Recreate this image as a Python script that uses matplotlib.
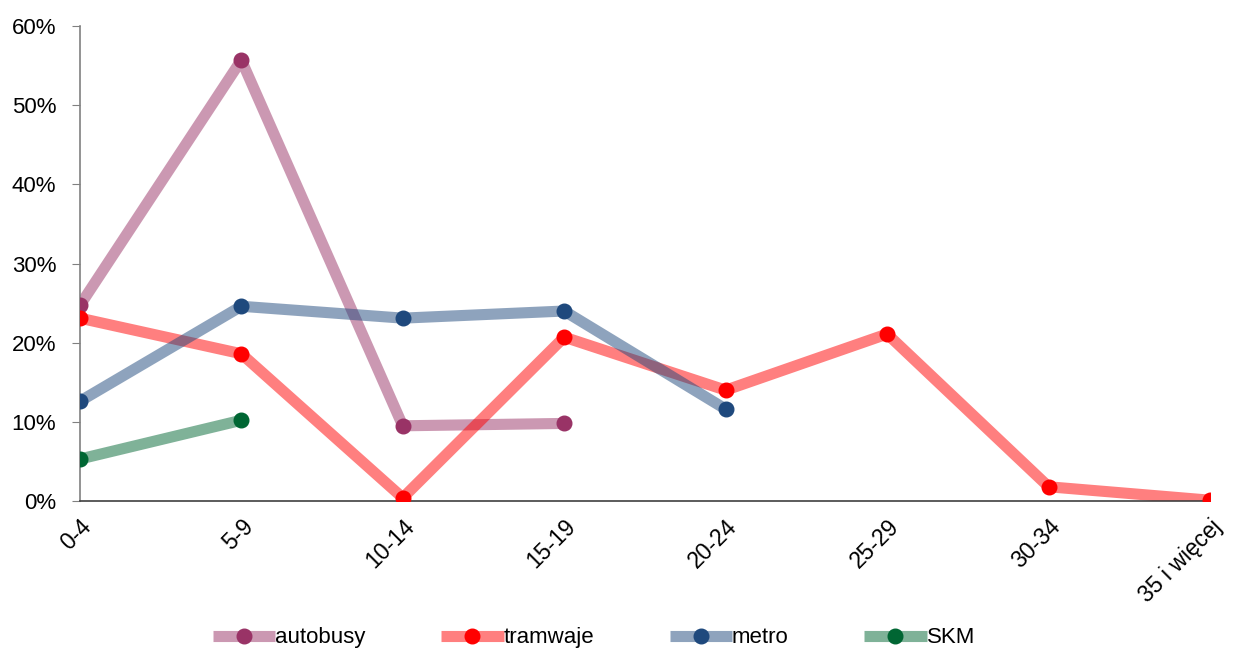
import numpy as np
import matplotlib.pyplot as plt
import matplotlib.transforms as mtransforms
from matplotlib.ticker import PercentFormatter

plt.rcParams["font.family"] = ["Liberation Sans", "DejaVu Sans"]

categories = ["0-4", "5-9", "10-14", "15-19", "20-24", "25-29", "30-34", "35 i więcej"]

autobusy = [24.7, 55.7, 9.5, 9.8]
tramwaje = [23.1, 18.6, 0.4, 20.7, 14.0, 21.1, 1.8, 0.1]
metro = [12.6, 24.6, 23.1, 24.0, 11.6]
skm = [5.3, 10.2]

series = [
    ("autobusy", autobusy, "#993366"),
    ("tramwaje", tramwaje, "#FF0000"),
    ("metro", metro, "#1F497D"),
    ("SKM", skm, "#006633"),
]

fig = plt.figure(figsize=(12.48, 6.51), dpi=100)
ax = fig.add_axes([0.064, 0.2304, 0.9056, 0.7296])

handles = []
for name, vals, c in series:
    x = np.arange(len(vals))
    ln, = ax.plot(x, vals, color=c, alpha=0.5, lw=8, solid_capstyle="butt",
                  solid_joinstyle="round", zorder=2)
    mk, = ax.plot(x, vals, ls="none", marker="o", markersize=10.5,
                  markerfacecolor=c, markeredgecolor=c, zorder=4)
    handles.append(((ln, mk), name))

ax.set_xlim(0, len(categories) - 1)
ax.set_ylim(0, 60)
ax.set_yticks(np.arange(0, 61, 10))
ax.yaxis.set_major_formatter(PercentFormatter(decimals=0))
ax.set_xticks(np.arange(len(categories)))
ax.set_xticklabels(categories, rotation=45, ha="right", rotation_mode="anchor")

# nudge rotated labels a bit to the right, like the original
offset = mtransforms.ScaledTranslation(10 / 100, -2 / 100, fig.dpi_scale_trans)
for lbl in ax.get_xticklabels():
    lbl.set_transform(lbl.get_transform() + offset)

for side in ["top", "right"]:
    ax.spines[side].set_visible(False)
ax.spines["left"].set_color("#808080")
ax.spines["left"].set_linewidth(1.2)
ax.spines["bottom"].set_color("#404040")
ax.spines["bottom"].set_linewidth(1.2)
ax.tick_params(axis="y", length=6, color="#808080", labelsize=16, pad=11)
ax.tick_params(axis="x", length=0, labelsize=16.5, pad=10)

leg = fig.legend([h for h, _ in handles], [n for _, n in handles],
                 loc="center", bbox_to_anchor=(0.476, 0.02), ncol=4, frameon=False,
                 fontsize=16, handlelength=2.8, handletextpad=0.0, columnspacing=3.4)

fig.savefig("out.png", dpi=100)
